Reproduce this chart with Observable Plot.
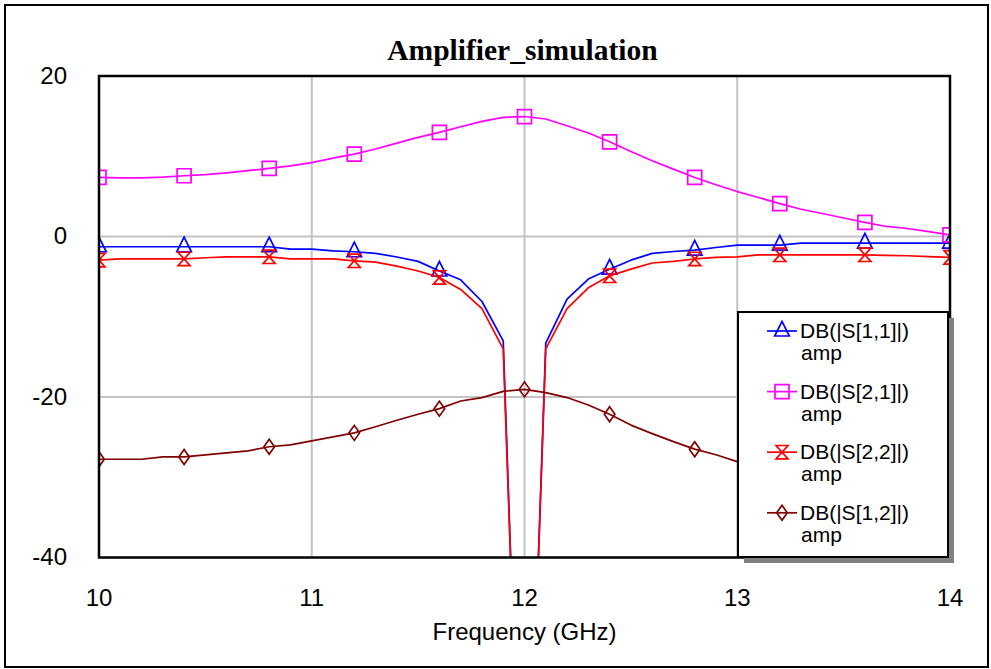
<!DOCTYPE html>
<html>
<head>
<meta charset="utf-8">
<script src="https://cdn.jsdelivr.net/npm/d3@7"></script>
<script src="https://cdn.jsdelivr.net/npm/@observablehq/plot@0.6"></script>
<style>
  body { margin: 0; background: #fff; }
  #wrap { position: relative; width: 991px; height: 669px; overflow: hidden; background: #fff; }
  #chart { position: absolute; left: 0; top: 0; }
  #overlay { position: absolute; left: 0; top: 0; pointer-events: none; }
</style>
</head>
<body>
<div id="wrap">
  <div id="chart"></div>
  <svg id="overlay" width="991" height="669"></svg>
</div>
<script>
// ---------- DATA ----------
const chartTitle = "Amplifier_simulation";
const xLabel = "Frequency (GHz)";
const xTicks = [10, 11, 12, 13, 14];
const yTicks = [20, 0, -20, -40];
const freq = [10.0,10.1,10.2,10.3,10.4,10.5,10.6,10.7,10.8,10.9,
              11.0,11.1,11.2,11.3,11.4,11.5,11.6,11.7,11.8,11.9,
              12.0,12.1,12.2,12.3,12.4,12.5,12.6,12.7,12.8,12.9,
              13.0,13.1,13.2,13.3,13.4,13.5,13.6,13.7,13.8,13.9,14.0];
const markerFreqs = [10.0,10.4,10.8,11.2,11.6,12.0,12.4,12.8,13.2,13.6,14.0];
const s11 = [-1.28,-1.28,-1.28,-1.28,-1.28,-1.28,-1.28,-1.28,-1.28,-1.57,
             -1.57,-1.78,-1.9,-2.1,-2.55,-3.1,-4.3,-5.4,-8.1,-13.0,
             -90,-13.3,-7.8,-5.3,-4.07,-2.95,-2.1,-1.87,-1.7,-1.37,
             -1.07,-1.07,-1.07,-0.82,-0.82,-0.82,-0.82,-0.82,-0.82,-0.82,-0.82];
const s21 = [7.36,7.3,7.3,7.4,7.57,7.7,7.94,8.2,8.48,8.8,
             9.2,9.77,10.27,10.9,11.64,12.35,12.97,13.68,14.34,14.85,
             14.95,14.64,13.8,12.9,11.8,10.6,9.44,8.4,7.36,6.45,
             5.6,4.86,4.1,3.4,2.87,2.3,1.75,1.25,1.0,0.6,0.2];
const s22 = [-2.95,-2.8,-2.8,-2.8,-2.8,-2.65,-2.53,-2.53,-2.53,-2.8,
             -2.8,-2.8,-3.03,-3.2,-3.7,-4.3,-5.1,-6.6,-9.0,-14.0,
             -90,-14.0,-9.0,-6.4,-4.9,-4.07,-3.3,-3.1,-2.8,-2.6,
             -2.53,-2.28,-2.28,-2.28,-2.28,-2.28,-2.28,-2.35,-2.4,-2.5,-2.6];
const s12 = [-27.76,-27.76,-27.76,-27.47,-27.47,-27.2,-26.97,-26.72,-26.2,-25.97,
             -25.47,-24.97,-24.47,-23.7,-22.9,-22.15,-21.45,-20.5,-20.07,-19.3,
             -19.05,-19.45,-20.07,-21.0,-22.15,-23.5,-24.56,-25.56,-26.5,-27.2,
             -28.05,-28.8,-29.5,-30.2,-30.8,-31.4,-31.9,-32.4,-32.8,-33.2,-33.5];
const seriesNames = ["DB(|S[1,1]|)", "DB(|S[2,1]|)", "DB(|S[2,2]|)", "DB(|S[1,2]|)"];
const seriesSub = "amp";
const seriesColors = ["#0000ff", "#ff00ff", "#ff0000", "#800000"];
const seriesValues = [s11, s21, s22, s12];

// ---------- SYMBOLS ----------
function sym(fn) { return { draw(ctx, size) { const k = Math.sqrt(size / Math.PI) / 7; fn(ctx, k); } }; }
const triangle = sym((c, k) => { c.moveTo(0, -9.7*k); c.lineTo(7.3*k, 5*k); c.lineTo(-7.3*k, 5*k); c.closePath(); });
const square = sym((c, k) => { c.moveTo(-7*k, -7*k); c.lineTo(7*k, -7*k); c.lineTo(7*k, 7*k); c.lineTo(-7*k, 7*k); c.closePath(); });
const hourglass = sym((c, k) => { c.moveTo(-6*k, -6.7*k); c.lineTo(6*k, -6.7*k); c.lineTo(-6*k, 6.7*k); c.lineTo(6*k, 6.7*k); c.closePath(); });
const diamond = sym((c, k) => { c.moveTo(0, -7.5*k); c.lineTo(5.3*k, 0); c.lineTo(0, 7.5*k); c.lineTo(-5.3*k, 0); c.closePath(); });
const seriesSymbols = [triangle, square, hourglass, diamond];

// ---------- PLOT ----------
const marks = [
  Plot.ruleX([11, 12, 13], {stroke: "#c3c3c3", strokeWidth: 2}),
  Plot.ruleY([0, -20], {stroke: "#c3c3c3", strokeWidth: 2})
];
seriesNames.forEach((name, s) => {
  const data = freq.map((f, i) => ({f, v: seriesValues[s][i], name}));
  const mdata = data.filter(d => markerFreqs.some(m => Math.abs(m - d.f) < 1e-9));
  marks.push(Plot.line(data, {x: "f", y: "v", stroke: seriesColors[s], strokeWidth: 1.7, clip: true}));
  marks.push(Plot.dot(mdata, {x: "f", y: "v", stroke: seriesColors[s], strokeWidth: 1.7, fill: "none", symbol: seriesSymbols[s], r: 7, clip: true}));
});
marks.push(Plot.frame({stroke: "#000", strokeWidth: 2.5}));

const chart = Plot.plot({
  width: 991,
  height: 669,
  marginLeft: 98.5,
  marginRight: 41.5,
  marginTop: 75.5,
  marginBottom: 112,
  style: {fontSize: "24px", fontFamily: "'Liberation Sans', Arial, sans-serif", color: "#000", background: "transparent"},
  x: {domain: [10, 14], ticks: xTicks, tickSize: 0, tickPadding: 31, tickFormat: d => String(d),
      label: xLabel, labelAnchor: "center", labelOffset: 82, labelArrow: "none"},
  y: {domain: [-40, 20], ticks: yTicks, tickSize: 0, tickPadding: 32, tickFormat: d => String(d), label: null},
  marks
});
// make sure no arrow is appended to the axis label
d3.select(chart).selectAll("text").each(function() {
  const tx = this.textContent;
  if (tx.includes("→")) {
    const t = d3.select(this);
    const ts = t.selectAll("tspan");
    if (ts.size()) ts.each(function() { this.textContent = this.textContent.replace(/\s*→\s*/g, ""); });
    else t.text(tx.replace(/\s*→\s*/g, ""));
  }
});
document.getElementById("chart").appendChild(chart);

// ---------- OVERLAY: border, title, legend ----------
const ov = d3.select("#overlay");
ov.append("rect").attr("x", 5).attr("y", 5).attr("width", 983).attr("height", 662)
  .attr("fill", "none").attr("stroke", "#000").attr("stroke-width", 2);
ov.append("text").attr("x", 522.5).attr("y", 60).attr("text-anchor", "middle")
  .attr("font-family", "'Liberation Serif', 'Times New Roman', serif").attr("font-weight", "bold")
  .attr("font-size", 29.5).text(chartTitle);

const lg = ov.append("g");
lg.append("rect").attr("x", 744).attr("y", 318).attr("width", 210).attr("height", 245).attr("fill", "#808080");
lg.append("rect").attr("x", 738).attr("y", 312).attr("width", 210).attr("height", 245)
  .attr("fill", "#fff").attr("stroke", "#000").attr("stroke-width", 2);
seriesNames.forEach((name, i) => {
  const cy = 331 + 60.6 * i;
  lg.append("line").attr("x1", 767).attr("x2", 797).attr("y1", cy).attr("y2", cy)
    .attr("stroke", seriesColors[i]).attr("stroke-width", 1.7);
  lg.append("path").attr("transform", `translate(782,${cy})`)
    .attr("d", d3.symbol(seriesSymbols[i], 49 * Math.PI)())
    .attr("fill", "none").attr("stroke", seriesColors[i]).attr("stroke-width", 1.7);
  const t = lg.append("text").attr("font-family", "'Liberation Sans', Arial, sans-serif").attr("font-size", 21).attr("fill", "#000");
  t.append("tspan").attr("x", 800).attr("y", cy + 7).text(name);
  t.append("tspan").attr("x", 801).attr("y", cy + 29).text(seriesSub);
});
</script>
</body>
</html>
